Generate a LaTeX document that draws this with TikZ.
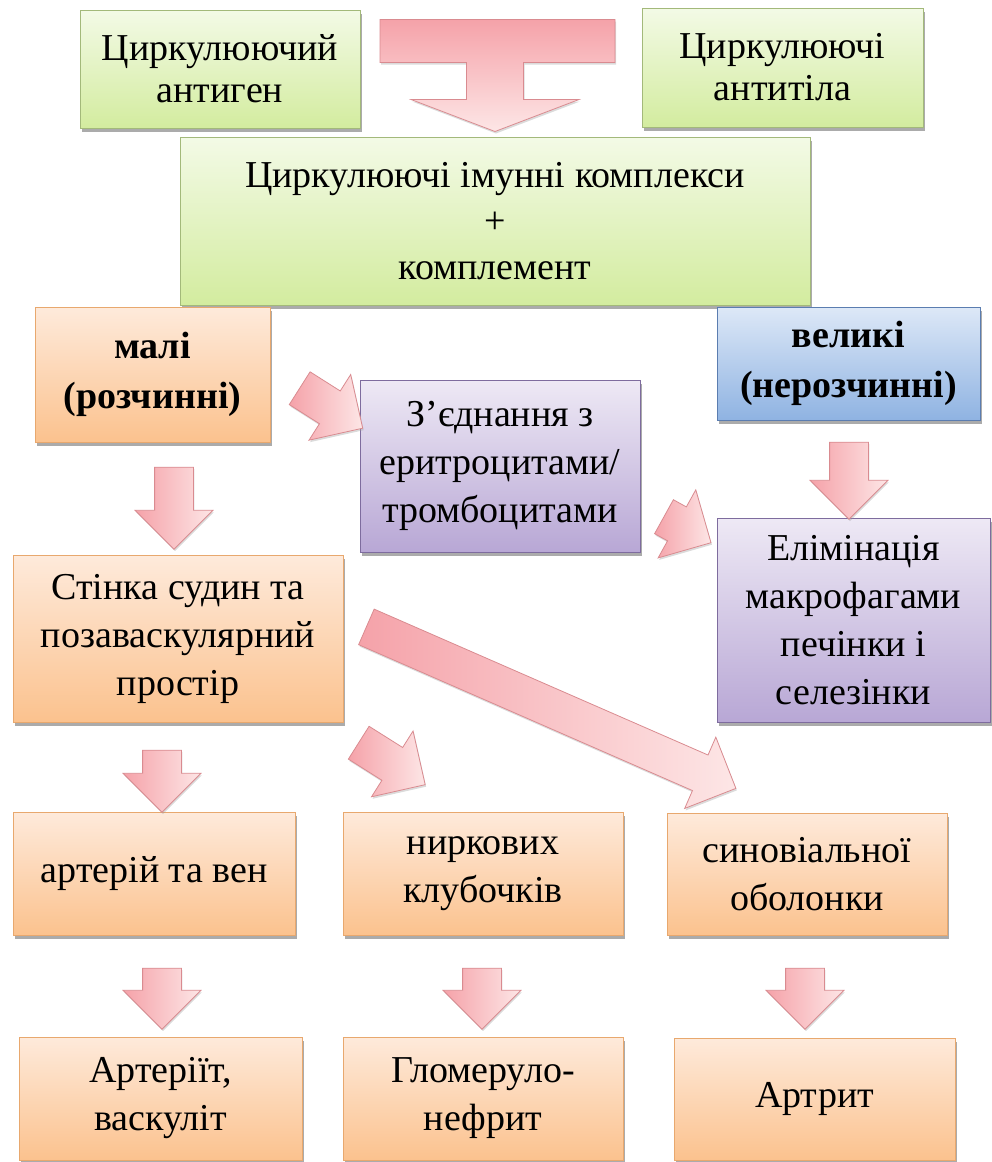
\documentclass[tikz,border=0pt]{standalone}
\usepackage{fontspec}
\setmainfont{Liberation Serif}
\usetikzlibrary{calc, shapes.arrows, shadows}

\definecolor{greentop}{HTML}{F3FAE6}
\definecolor{greenbot}{HTML}{D3EC9F}
\definecolor{greenline}{HTML}{A3B97A}
\definecolor{orangetop}{HTML}{FEEADB}
\definecolor{orangebot}{HTML}{FBC28E}
\definecolor{orangeline}{HTML}{E8A86E}
\definecolor{bluetop}{HTML}{DDE8F7}
\definecolor{bluebot}{HTML}{8FB3E2}
\definecolor{blueline}{HTML}{5B7DB0}
\definecolor{violettop}{HTML}{EEE9F5}
\definecolor{violetbot}{HTML}{B8A7D5}
\definecolor{violetline}{HTML}{7E6C9E}
\definecolor{arrowdark}{HTML}{F5A2A9}
\definecolor{arrowlight}{HTML}{FDE6E6}
\definecolor{arrowline}{HTML}{D98B90}

% block arrow between two named points
\newcommand{\blockarrow}[2]{%
  \path let \p1=(#1), \p2=(#2),
    \n1={atan2(\y2-\y1,\x2-\x1)}, \n2={veclen(\x2-\x1,\y2-\y1)} in
    node[fatarrow, rotate=\n1, minimum height=\n2] at ($(#1)!0.5!(#2)$) {};}

\begin{document}
\begin{tikzpicture}[x=1pt, y=-1pt]
      % Node styles
      \tikzset{
        box/.style={draw, rectangle, align=center, inner sep=0pt, line width=1pt,
          font=\fontsize{38}{48}\selectfont,
          drop shadow={shadow xshift=1.5pt, shadow yshift=-3.5pt, fill=black!55, opacity=.6}},
        greenbox/.style={box, draw=greenline, top color=greentop, bottom color=greenbot},
        orangebox/.style={box, draw=orangeline, top color=orangetop, bottom color=orangebot},
        bluebox/.style={box, draw=blueline, top color=bluetop, bottom color=bluebot},
        violetbox/.style={box, draw=violetline, top color=violettop, bottom color=violetbot},
        fatarrow/.style={single arrow, draw=arrowline, line width=0.8pt,
          inner xsep=0pt, inner ysep=19pt,
          left color=arrowdark, right color=arrowlight,
          single arrow head extend=19.5pt, single arrow tip angle=90,
          drop shadow={shadow xshift=1pt, shadow yshift=-2pt, fill=black!40, opacity=.35}},
      }
      \useasboundingbox (0,0) rectangle (992,1162);
      % Nodes
      \node (antigen) [greenbox, minimum width=280, minimum height=118,
        font=\fontsize{38}{42}\selectfont] at (220,69) {Циркулюючий\\антиген};
      \node (antitila) [greenbox, minimum width=281, minimum height=119,
        font=\fontsize{38}{42}\selectfont] at (782.5,67.5) {Циркулюючі\\антитіла};
      \node (cik) [greenbox, minimum width=630, minimum height=168,
        font=\fontsize{38}{46}\selectfont] at (495,221) {Циркулюючі імунні комплекси\\+\\комплемент};
      \node (mali) [orangebox, minimum width=235, minimum height=135,
        font=\bfseries\fontsize{38}{50}\selectfont] at (152.5,374.5) {малі\\(розчинні)};
      \node (veliki) [bluebox, minimum width=263, minimum height=113,
        font=\bfseries\fontsize{38}{50}\selectfont] at (848.5,363.5) {великі\\(нерозчинні)};
      \node (zednannia) [violetbox, minimum width=280, minimum height=172] at (500,466)
        {З’єднання з\\еритроцитами/\\тромбоцитами};
      \node (eliminatsia) [violetbox, minimum width=273, minimum height=204] at (853.5,620)
        {Елімінація\\макрофагами\\печінки і\\селезінки};
      \node (stinka) [orangebox, minimum width=330, minimum height=167] at (178,638.5)
        {Стінка судин та\\позаваскулярний\\простір};
      \node (arterii) [orangebox, minimum width=282, minimum height=123] at (154,873.5)
        {артерій та вен};
      \node (nyrkovi) [orangebox, minimum width=280, minimum height=123] at (483,873.5)
        {ниркових\\клубочків};
      \node (synovia) [orangebox, minimum width=280, minimum height=122] at (807,874)
        {синовіальної\\оболонки};
      \node (arteriit) [orangebox, minimum width=283, minimum height=123] at (160.5,1098.5)
        {Артеріїт,\\васкуліт};
      \node (glomerulo) [orangebox, minimum width=280, minimum height=123] at (483,1098.5)
        {Гломеруло-\\нефрит};
      \node (artryt) [orangebox, minimum width=281, minimum height=122] at (814.5,1099)
        {Артрит};
      % Merging arrow
      \draw [draw=arrowline, line width=0.8pt, top color=arrowdark, bottom color=arrowlight,
        drop shadow={shadow xshift=1pt, shadow yshift=-2pt, fill=black!40, opacity=.35},
        shift={(cik.north)}]
        (-115,-117) -- (120,-117) -- (120,-74) -- (28.5,-74) -- (28.5,-37) -- (84,-37)
        -- (0,-5) -- (-84,-37) -- (-28.5,-37) -- (-28.5,-74) -- (-115,-74) -- cycle;
      % Arrow ends
      \coordinate (m1) at ($(mali.south)+(21.5,15)$);
      \coordinate (s1) at ($(stinka.north)+(-4,-15)$);
      \coordinate (v1) at ($(veliki.south)+(0.5,12)$);
      \coordinate (e1) at ($(eliminatsia.north)+(-4.5,-8)$);
      \coordinate (s2) at ($(stinka.south)+(-16,18)$);
      \coordinate (a1) at ($(arterii.north)+(8,-9)$);
      \coordinate (a2) at ($(arterii.south)+(8,23)$);
      \coordinate (r1) at ($(arteriit.north)+(1.5,-17)$);
      \coordinate (n2) at ($(nyrkovi.south)+(-1,23)$);
      \coordinate (g1) at ($(glomerulo.north)+(-1,-17)$);
      \coordinate (o2) at ($(synovia.south)+(-2,23)$);
      \coordinate (t1) at ($(artryt.north)+(-9.5,-18)$);
      \coordinate (m2) at ($(mali.east)+(21,8.5)$);
      \coordinate (z1) at ($(zednannia.west)+(-5,-43)$);
      \coordinate (z2) at ($(zednannia.east)+(15,46)$);
      \coordinate (e2) at ($(eliminatsia.west)+(-14,-82)$);
      \coordinate (s3) at ($(stinka.south east)+(7,15)$);
      \coordinate (n1) at ($(nyrkovi.north)+(-66,-32)$);
      \coordinate (s4) at ($(stinka.east)+(14,-15.5)$);
      \coordinate (o1) at ($(synovia.north)+(-80,-28)$);
      % Arrows
      \blockarrow{m1}{s1}
      \blockarrow{v1}{e1}
      \blockarrow{s2}{a1}
      \blockarrow{a2}{r1}
      \blockarrow{n2}{g1}
      \blockarrow{o2}{t1}
      \blockarrow{m2}{z1}
      \blockarrow{z2}{e2}
      \blockarrow{s3}{n1}
      \blockarrow{s4}{o1}
\end{tikzpicture}
\end{document}
